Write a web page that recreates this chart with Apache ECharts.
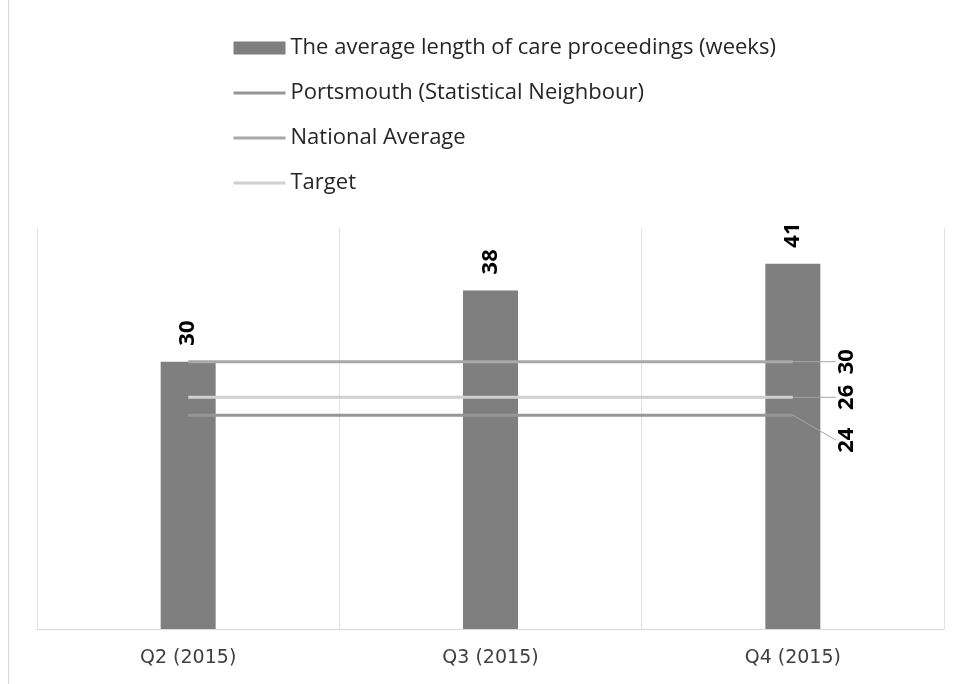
<!DOCTYPE html>
<html><head><meta charset="utf-8">
<script src="https://cdn.jsdelivr.net/npm/echarts@6/dist/echarts.min.js"></script>
<style>html,body{margin:0;padding:0;background:#fff}#c{width:959px;height:684px}</style>
</head><body><div id="c"></div>
<script>
const categories = ['Q2 (2015)', 'Q3 (2015)', 'Q4 (2015)'];
const avgLength = [30, 38, 41];
const portsmouth = [24, 24, 24];
const nationalAvg = [30, 30, 30];
const target = [26, 26, 26];
const seriesNames = ['The average length of care proceedings (weeks)', 'Portsmouth (Statistical Neighbour)', 'National Average', 'Target'];
const lineColors = ['#969696', '#a8a8a8', '#d0d0d0'];

const font = 'Open Sans';
function lastLabel(arr) {
  return arr.map((v, i) => i === arr.length - 1 ? {value: v, label: {show: true}} : v);
}
const chart = echarts.init(document.getElementById('c'));
const lineLabel = {
  show: false, position: 'right', distance: 4, rotate: 90, align: 'center', verticalAlign: 'top',
  fontFamily: font, fontSize: 22, fontWeight: 'bold', color: '#000'
};
// labelLayout offsets are in the rotated label frame: dx -> up, dy -> right
function mkLine(name, data, color, down) {
  return {
    name, type: 'line', data: lastLabel(data), symbol: 'circle', symbolSize: 0, showSymbol: true, z: 3,
    lineStyle: {color, width: 3}, itemStyle: {color},
    label: lineLabel,
    labelLine: {show: true, lineStyle: {color: '#a6a6a6', width: 1}},
    labelLayout: {dx: -down, dy: 39},
    emphasis: {disabled: true}
  };
}
chart.setOption({
  animation: false,
  textStyle: {fontFamily: font},
  legend: {
    orient: 'vertical', left: 232, top: 37, padding: 0, itemGap: 23, itemWidth: 52, itemHeight: 13,
    textStyle: {fontFamily: font, fontSize: 22, color: '#262626'},
    data: seriesNames.map((n, i) => i === 0 ? {name: n, icon: 'rect'}
      : {name: n, itemStyle: {opacity: 0}, lineStyle: {width: 3, color: lineColors[i - 1]}})
  },
  grid: {left: 37, right: 15, top: 228, bottom: 55},
  xAxis: {
    type: 'category', data: categories,
    axisLine: {lineStyle: {color: '#d9d9d9'}}, axisTick: {show: false},
    axisLabel: {fontFamily: 'DejaVu Sans', fontSize: 19, color: '#404040', margin: 20},
    splitLine: {show: true, interval: 0, lineStyle: {color: '#e3e3e3'}}
  },
  yAxis: {type: 'value', min: 0, max: 45, show: false, splitLine: {show: false}},
  graphic: [{type: 'line', shape: {x1: 8.5, y1: 0, x2: 8.5, y2: 684}, style: {stroke: '#d9d9d9', lineWidth: 1}}],
  series: [
    {
      name: seriesNames[0], type: 'bar', data: avgLength, barWidth: 55, z: 2,
      itemStyle: {color: '#7f7f7f'},
      label: {show: true, position: 'top', rotate: 90, align: 'left', verticalAlign: 'middle', distance: 16,
        fontFamily: font, fontSize: 22, fontWeight: 'bold', color: '#000'}
    },
    mkLine(seriesNames[1], portsmouth, lineColors[0], 25),
    mkLine(seriesNames[2], nationalAvg, lineColors[1], 0),
    mkLine(seriesNames[3], target, lineColors[2], 0)
  ]
});
</script></body></html>
